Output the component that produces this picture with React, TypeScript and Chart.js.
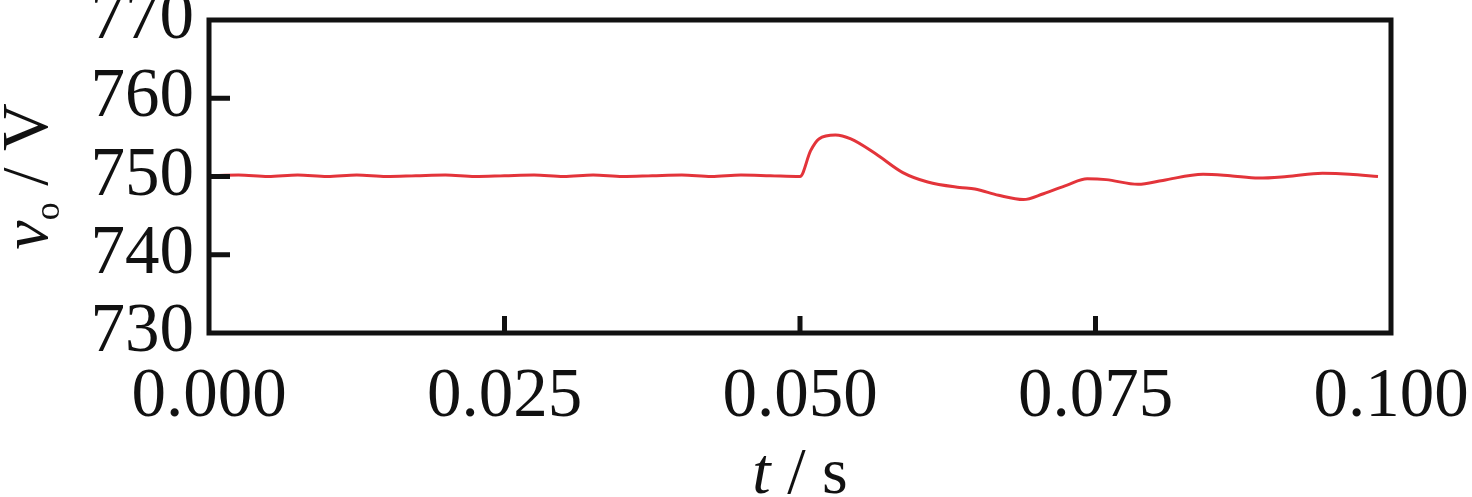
import React, { useEffect, useRef } from "react";
import { Chart, registerables } from "chart.js";

Chart.register(...registerables);

// ---- data ----
const timeS = [
  0.0, 0.0025, 0.005, 0.0075, 0.01, 0.0125, 0.015, 0.0175, 0.02, 0.0225,
  0.025, 0.0275, 0.03, 0.0325, 0.035, 0.0375, 0.04, 0.0425, 0.045, 0.0475,
  0.05, 0.0509, 0.0516, 0.053, 0.0543, 0.0564, 0.0587, 0.0608, 0.0635, 0.0648,
  0.0668, 0.0689, 0.0706, 0.0726, 0.0743, 0.0759, 0.0786, 0.0807, 0.0841,
  0.0864, 0.0888, 0.0912, 0.0942, 0.0965, 0.0989,
];
const voltageV = [
  750.1, 750.2, 750.0, 750.2, 750.0, 750.2, 750.0, 750.1, 750.2, 750.0,
  750.1, 750.2, 750.0, 750.2, 750.0, 750.1, 750.2, 750.0, 750.2, 750.1,
  750.0, 753.3, 754.8, 755.3, 754.8, 752.9, 750.5, 749.3, 748.6, 748.4,
  747.6, 747.05, 747.8, 748.9, 749.7, 749.6, 749.0, 749.5, 750.3,
  750.1, 749.8, 750.0, 750.4, 750.3, 750.0,
];
const xTickValues = [0, 0.025, 0.05, 0.075, 0.1];
const yTickValues = [730, 740, 750, 760, 770];
const xInnerTicks = [0.025, 0.05, 0.075];
const yInnerTicks = [740, 750, 760];
const xTitleParts = ["t", " / s"];
const yTitleParts = ["v", "o", " / V"];

const SERIF = '"Liberation Serif", "Times New Roman", serif';
const INK = "#111111";

const framePlugin = {
  id: "framePlugin",
  afterDraw(chart: any) {
    const { ctx, chartArea: a } = chart;
    const xs = chart.scales.x;
    const ys = chart.scales.y;
    ctx.save();
    ctx.strokeStyle = INK;
    ctx.lineWidth = 5;
    ctx.lineCap = "butt";
    ctx.strokeRect(a.left, a.top, a.right - a.left, a.bottom - a.top);
    ctx.beginPath();
    yInnerTicks.forEach((v) => {
      const py = ys.getPixelForValue(v);
      ctx.moveTo(a.left, py);
      ctx.lineTo(a.left + 21, py);
    });
    xInnerTicks.forEach((v) => {
      const px = xs.getPixelForValue(v);
      ctx.moveTo(px, a.bottom);
      ctx.lineTo(px, a.bottom - 17);
    });
    ctx.stroke();

    // x title: italic t + " / s"
    ctx.fillStyle = INK;
    ctx.textBaseline = "alphabetic";
    ctx.textAlign = "left";
    const fItal = `italic 66px ${SERIF}`;
    const fNorm = `66px ${SERIF}`;
    ctx.font = fItal;
    const wT = ctx.measureText(xTitleParts[0]).width;
    ctx.font = fNorm;
    const wS = ctx.measureText(xTitleParts[1]).width;
    const cx = (a.left + a.right) / 2;
    let sx = cx - (wT + wS) / 2;
    ctx.font = fItal;
    ctx.fillText(xTitleParts[0], sx, 493);
    ctx.font = fNorm;
    ctx.fillText(xTitleParts[1], sx + wT, 493);

    // y title, rotated: italic v, subscript o, " / V"
    ctx.save();
    ctx.translate(47, (a.top + a.bottom) / 2);
    ctx.rotate(-Math.PI / 2);
    const fSub = `36px ${SERIF}`;
    ctx.font = fItal;
    const w1 = ctx.measureText(yTitleParts[0]).width;
    ctx.font = fSub;
    const w2 = ctx.measureText(yTitleParts[1]).width;
    ctx.font = fNorm;
    const w3 = ctx.measureText(yTitleParts[2]).width;
    let tx = -(w1 + w2 + w3) / 2;
    ctx.font = fItal;
    ctx.fillText(yTitleParts[0], tx, 0);
    ctx.font = fSub;
    ctx.fillText(yTitleParts[1], tx + w1, 12);
    ctx.font = fNorm;
    ctx.fillText(yTitleParts[2], tx + w1 + w2, 0);
    ctx.restore();

    ctx.restore();
  },
};

export default function App() {
  const canvasRef = useRef<HTMLCanvasElement | null>(null);

  useEffect(() => {
    const canvas = canvasRef.current;
    if (!canvas) return;
    const points = timeS.map((t, i) => ({ x: t, y: voltageV[i] }));
    const chart = new Chart(canvas, {
      type: "line",
      data: {
        datasets: [
          {
            data: points,
            borderColor: "#e3343a",
            borderWidth: 3,
            pointRadius: 0,
            fill: false,
            cubicInterpolationMode: "monotone",
          },
        ],
      },
      options: {
        animation: false,
        responsive: false,
        maintainAspectRatio: false,
        devicePixelRatio: 1,
        layout: { padding: { top: 20, right: 81, bottom: 0, left: 0 } },
        plugins: {
          legend: { display: false },
          tooltip: { enabled: false },
          title: { display: false },
        },
        scales: {
          x: {
            type: "linear",
            min: 0,
            max: 0.1,
            afterBuildTicks: (scale: any) => {
              scale.ticks = xTickValues.map((v) => ({ value: v }));
            },
            afterFit: (scale: any) => {
              scale.height = 164;
              scale.paddingLeft = 0;
              scale.paddingRight = 0;
            },
            grid: { display: false, drawTicks: false },
            border: { display: false },
            ticks: {
              maxRotation: 0,
              autoSkip: false,
              padding: 23,
              color: INK,
              font: { family: SERIF, size: 69 },
              callback: (v: any) => Number(v).toFixed(3),
            },
          },
          y: {
            type: "linear",
            min: 730,
            max: 770,
            afterBuildTicks: (scale: any) => {
              scale.ticks = yTickValues.map((v) => ({ value: v }));
            },
            afterFit: (scale: any) => {
              scale.width = 209;
              scale.paddingTop = 0;
              scale.paddingBottom = 0;
            },
            grid: { display: false, drawTicks: false },
            border: { display: false },
            ticks: {
              autoSkip: false,
              padding: 15,
              color: INK,
              font: { family: SERIF, size: 69 },
              callback: (v: any) => String(v),
            },
          },
        },
      },
      plugins: [framePlugin],
    } as any);
    return () => chart.destroy();
  }, []);

  return (
    <div style={{ position: "fixed", left: 0, top: 0, width: 1472, height: 497, background: "#ffffff" }}>
      <canvas ref={canvasRef} width={1472} height={497} style={{ display: "block" }} />
    </div>
  );
}
